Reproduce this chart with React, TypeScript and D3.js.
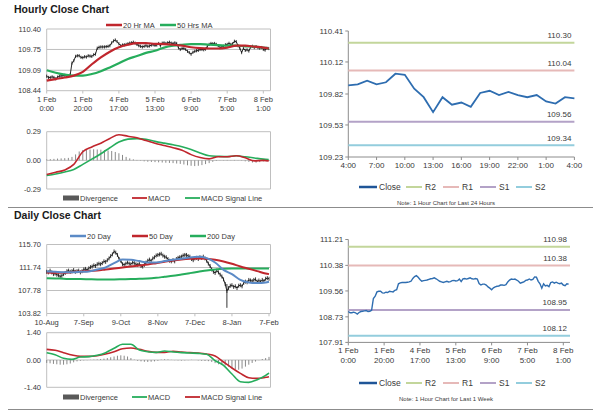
import * as d3 from "d3";

const FONT = "'Liberation Sans', Arial, sans-serif";
const GRID = "#bfbfbf";
const TXT = "#3a3a3a";

// ---- hourly data: 1 Feb 0:00 .. 8 Feb 3:00 (one value per bar)
const hourlyClose = [
  108.90, 108.86, 108.86, 108.88, 108.86, 108.82, 108.87, 108.90, 108.91, 108.92, 108.93, 108.90, 108.91, 108.94,
  109.32, 109.39, 109.53, 109.55, 109.55, 109.50, 109.49, 109.52, 109.51, 109.55, 109.54, 109.53, 109.58, 109.60,
  109.79, 109.82, 109.83, 109.83, 109.83, 109.84, 109.85, 109.87, 109.96, 110.02, 110.05, 110.00, 109.93, 109.87,
  109.89, 109.90, 109.91, 109.93, 109.95, 109.96, 109.98, 109.95, 109.91, 109.87, 109.85, 109.83, 109.85, 109.87,
  109.85, 109.86, 109.89, 109.90, 109.88, 109.89, 109.94, 109.86, 109.95, 109.96, 109.94, 109.96, 109.98, 109.95,
  109.94, 109.96, 109.94, 109.80, 109.75, 109.78, 109.78, 109.75, 109.69, 109.65, 109.60, 109.66, 109.69, 109.71,
  109.72, 109.75, 109.75, 109.74, 109.76, 109.85, 109.91, 109.94, 109.93, 109.94, 109.91, 109.87, 109.81, 109.83, 109.85,
  109.90, 109.91, 109.945, 109.91, 109.93, 110.01, 110.00, 109.87, 109.79, 109.65, 109.79, 109.72, 109.74, 109.70,
  109.83, 109.85, 109.81, 109.84, 109.81, 109.79, 109.81, 109.75, 109.73, 109.79, 109.78,
];
const hourlyTicks = [0, 20, 40, 60, 80, 100, 120];
const hourlyTickDay = ["1 Feb", "1 Feb", "4 Feb", "5 Feb", "6 Feb", "7 Feb", "8 Feb"];
const hourlyTickTime = ["0:00", "20:00", "17:00", "13:00", "9:00", "5:00", "1:00"];

const hourlyMaIdx = [0, 5, 10, 15, 20, 25, 30, 35, 40, 45, 50, 55, 60, 65, 70, 75, 80, 85, 90, 95, 100, 105, 110, 115, 120, 123];
const hourlyMa20 = [108.76, 108.81, 108.86, 108.92, 109.04, 109.28, 109.50, 109.68, 109.82, 109.90, 109.95, 109.95, 109.93,
  109.92, 109.90, 109.87, 109.82, 109.79, 109.78, 109.78, 109.81, 109.87, 109.87, 109.84, 109.81, 109.78];
const hourlyMa50 = [109.09, 109.01, 108.95, 108.92, 108.92, 108.97, 109.06, 109.18, 109.31, 109.45, 109.54, 109.64, 109.71,
  109.81, 109.87, 109.90, 109.92, 109.92, 109.90, 109.89, 109.87, 109.87, 109.85, 109.84, 109.81, 109.78];
const hourlyMacd = [-0.144, -0.121, -0.097, -0.041, 0.087, 0.135, 0.174, 0.222, 0.259, 0.244, 0.228, 0.200, 0.174,
  0.151, 0.128, 0.103, 0.058, 0.028, 0.015, 0.036, 0.036, 0.046, 0.026, -0.005, 0.000, -0.005];
const hourlySignal = [-0.154, -0.138, -0.118, -0.092, -0.041, 0.012, 0.067, 0.128, 0.185, 0.215, 0.220, 0.213, 0.192,
  0.174, 0.157, 0.138, 0.110, 0.074, 0.046, 0.041, 0.038, 0.046, 0.036, 0.024, 0.012, 0.007];
// every 2nd bar
const hourlyDiv = [
  0.010, 0.012, 0.015, 0.018, 0.020, 0.022, 0.025, 0.035, 0.060, 0.090,
  0.105, 0.108, 0.110, 0.112, 0.110, 0.108, 0.105, 0.100, 0.095, 0.085,
  0.072, 0.055, 0.035, 0.020, 0.010, 0.004, -0.004, -0.010, -0.014, -0.016,
  -0.018, -0.020, -0.022, -0.024, -0.026, -0.028, -0.032, -0.036, -0.042, -0.050,
  -0.055, -0.058, -0.055, -0.048, -0.038, -0.028, -0.015, -0.006, -0.002, 0.003,
  0.004, 0.002, 0.004, 0.002, -0.004, -0.010, -0.016, -0.022, -0.024, -0.018,
  -0.012, -0.010,
];

// ---- daily data: 10 Aug .. 7 Feb
const dailyClose = [
  111.0, 110.9, 111.2, 110.9, 110.6, 110.7, 110.5, 110.4, 110.2, 110.3, 110.6, 110.8, 111.1,
  111.2, 111.0, 111.1, 111.3, 111.0, 111.1, 111.2, 110.9, 111.1, 111.4, 111.5, 111.3, 111.6, 111.8,
  111.9, 112.1, 112.0, 112.3, 112.4, 112.3, 112.5, 112.8, 112.7, 113.0, 113.3, 113.7,
  114.0, 114.5, 114.3, 113.9, 113.2, 112.9, 112.3, 112.2,
  112.4, 112.6, 112.4, 112.3, 112.6, 112.5, 112.3, 112.2, 112.4, 112.0, 111.9, 112.2, 112.6, 112.9,
  113.1, 112.9, 113.3, 113.5, 113.8, 113.9, 114.0, 114.1, 113.8, 113.6, 113.5, 113.2, 112.9, 112.8,
  113.0, 112.8, 113.2, 113.4, 113.5, 113.6, 113.8, 113.9, 113.9, 113.7, 113.6, 113.2,
  113.0, 113.3, 113.4, 113.2, 113.5, 113.4, 113.6, 113.3, 112.9, 112.4, 112.0,
  111.4, 111.0, 110.8, 111.2, 110.9, 110.5, 110.2, 109.7, 108.9, 107.7,
  108.2, 108.6, 108.7, 108.4, 108.5, 108.2, 108.6, 108.7, 108.5, 109.1,
  109.3, 109.2, 109.6, 109.5, 109.4, 109.6, 109.7, 109.3, 109.5, 109.3, 109.6, 109.4, 109.8, 109.9, 109.8,
];
const dailySpike = { index: 107, high: 108.9, low: 104.8 };
const dailyTicks = [0, 22, 44, 66, 88, 110, 132];
const dailyTickLabels = ["10-Aug", "7-Sep", "9-Oct", "8-Nov", "7-Dec", "8-Jan", "7-Feb"];
const dailyMaIdx = [0, 5, 10, 15, 20, 25, 30, 35, 40, 45, 50, 55, 60, 65, 70, 75, 80, 85, 90, 95, 100, 105, 110, 115, 120, 125, 130, 132];
const dailyMa20 = [111.06, 111.00, 110.94, 110.94, 111.00, 111.06, 111.40, 111.75, 112.49, 113.12, 113.07, 112.84, 112.61,
  112.61, 112.84, 113.07, 113.24, 113.47, 113.58, 113.35, 112.61, 111.34, 110.60, 109.62, 109.16, 109.05, 109.16, 109.28];
const dailyMa50 = [110.89, 110.83, 110.83, 110.94, 111.06, 111.12, 111.23, 111.40, 111.57, 111.75, 111.92, 112.09, 112.26,
  112.49, 112.72, 112.95, 113.12, 113.24, 113.30, 113.24, 113.07, 112.78, 112.38, 111.92, 111.52, 111.12, 110.71, 110.60];
const dailyMa200 = [109.91, 109.85, 109.80, 109.74, 109.74, 109.71, 109.68, 109.68, 109.68, 109.71, 109.74, 109.80, 109.85,
  109.97, 110.14, 110.31, 110.54, 110.77, 111.00, 111.23, 111.40, 111.52, 111.57, 111.57, 111.57, 111.57, 111.57, 111.57];
const dailyMacd = [0.376, 0.274, 0.085, 0.034, 0.154, 0.171, 0.239, 0.376, 0.598, 0.804, 0.804, 0.513, 0.427, 0.393,
  0.462, 0.410, 0.376, 0.359, 0.342, 0.291, -0.034, -0.274, -0.718, -1.111, -1.146, -1.009, -0.787, -0.667];
const dailySignal = [0.547, 0.496, 0.376, 0.257, 0.188, 0.188, 0.222, 0.308, 0.427, 0.581, 0.616, 0.547, 0.445, 0.393,
  0.393, 0.445, 0.410, 0.376, 0.359, 0.308, 0.205, -0.103, -0.410, -0.684, -0.906, -0.941, -0.889, -0.855];
// every 2nd day
const dailyDiv = [
  -0.15, -0.17, -0.20, -0.22, -0.24, -0.24, -0.22, -0.18, -0.12, -0.07,
  -0.04, -0.02, -0.01, 0.01, 0.02, 0.03, 0.05, 0.07, 0.10, 0.14,
  0.18, 0.22, 0.24, 0.22, 0.18, 0.10, 0.02, -0.04, -0.07, -0.09,
  -0.10, -0.09, -0.07, -0.04, 0.02, 0.04, 0.03, 0.01, -0.01, -0.02,
  -0.03, -0.02, -0.01, 0.01, 0.00, -0.02, -0.04, -0.05, -0.06, -0.10,
  -0.16, -0.22, -0.24, -0.28, -0.34, -0.42, -0.48, -0.50, -0.44, -0.34,
  -0.24, -0.15, -0.08, -0.01, 0.05, 0.10, 0.16,
];

// ---- pivot levels
const dayTicksY = [110.41, 110.12, 109.82, 109.53, 109.23];
const dayLevels = [110.30, 110.04, 109.56, 109.34];
const dayTimeLabels = ["4:00", "7:00", "10:00", "13:00", "16:00", "19:00", "22:00", "1:00", "4:00"];
const weekTicksY = [111.21, 110.38, 109.56, 108.73, 107.91];
const weekLevels = [110.98, 110.38, 108.95, 108.12];
const levelNames = ["R2", "R1", "S1", "S2"];
const levelColors = ["#c3d69b", "#e6b9b8", "#b3a2c7", "#93cddd"];
const CLOSE_BLUE = "#2e6db0";

type Sc = d3.ScaleLinear<number, number>;

function linePath(xs: number[], vs: number[], x: Sc, y: Sc, curve = false) {
  const l = d3.line<number>().x((_, i) => x(xs[i])).y((v) => y(v));
  if (curve) l.curve(d3.curveMonotoneX);
  return l(vs) || "";
}

function Frame({ x0, x1, y, ticks, fmt }: { x0: number; x1: number; y: Sc; ticks: number[]; fmt: (v: number) => string }) {
  const [ya, yb] = y.range();
  return (
    <g>
      {ticks.map((t, i) => (
        <g key={i}>
          <line x1={x0} x2={x1} y1={y(t)} y2={y(t)} stroke={GRID} strokeWidth={1} />
          <text x={41} y={y(t) + 2.6} textAnchor="end" fontSize={7.5} fill={TXT}>{fmt(t)}</text>
        </g>
      ))}
      <line x1={x0} x2={x0} y1={ya} y2={yb} stroke={GRID} />
      <line x1={x1} x2={x1} y1={ya} y2={yb} stroke={GRID} />
    </g>
  );
}

function LegendLine({ x, y, color, label, w = 16, sw = 2.5 }: { x: number; y: number; color: string; label: string; w?: number; sw?: number }) {
  return (
    <g>
      <line x1={x} x2={x + w} y1={y} y2={y} stroke={color} strokeWidth={sw} />
      <text x={x + w + 1} y={y + 2.6} fontSize={7.5} fill={TXT}>{label}</text>
    </g>
  );
}

function Bars({ vals, x, y, h }: { vals: number[]; x: Sc; y: Sc; h: number }) {
  const idx = vals.map((_, i) => i);
  return (
    <g>
      <path d={linePath(idx, vals, x, y)} fill="none" stroke="#111" strokeWidth={0.9} />
      {vals.map((v, i) => (
        <line key={i} x1={x(i)} x2={x(i)} y1={y(v) - h} y2={y(v) + h} stroke="#111" strokeWidth={0.8} />
      ))}
    </g>
  );
}

function HourlyPanel() {
  const x = d3.scaleLinear().domain([0, 120]).range([46.7, 263.3]);
  const y = d3.scaleLinear().domain([108.44, 110.40]).range([90.7, 29]);
  const ym = d3.scaleLinear().domain([-0.29, 0.29]).range([189, 131.7]);
  const x1 = 270.5;
  return (
    <g>
      <text x={14} y={13} fontSize={10.5} fontWeight="bold" fill="#1a1a1a">Hourly Close Chart</text>
      <LegendLine x={106} y={25} color="#c0262d" label="20 Hr MA" />
      <LegendLine x={160} y={25} color="#26ad5c" label="50 Hrs MA" />
      <Frame x0={46.7} x1={x1} y={y} ticks={[110.40, 109.75, 109.09, 108.44]} fmt={(v) => v.toFixed(2)} />
      {hourlyTicks.map((t, i) => (
        <g key={i}>
          <line x1={x(t)} x2={x(t)} y1={90.7} y2={93.5} stroke={GRID} />
          <text x={x(t)} y={102} textAnchor="middle" fontSize={7.5} fill={TXT}>{hourlyTickDay[i]}</text>
          <text x={x(t)} y={111} textAnchor="middle" fontSize={7.5} fill={TXT}>{hourlyTickTime[i]}</text>
        </g>
      ))}
      <Bars vals={hourlyClose} x={x} y={y} h={1.6} />
      <path d={linePath(hourlyMaIdx, hourlyMa50, x, y, true)} fill="none" stroke="#26ad5c" strokeWidth={2.2} />
      <path d={linePath(hourlyMaIdx, hourlyMa20, x, y, true)} fill="none" stroke="#c0262d" strokeWidth={2.2} />

      <Frame x0={46.7} x1={x1} y={ym} ticks={[0.29, 0, -0.29]} fmt={(v) => v.toFixed(2)} />
      {hourlyDiv.map((v, i) => (
        <rect key={i} x={x(i * 2) - 0.5} width={1} y={Math.min(ym(v), ym(0))} height={Math.abs(ym(v) - ym(0))} fill="#8a8a8a" />
      ))}
      <path d={linePath(hourlyMaIdx, hourlySignal, x, ym, true)} fill="none" stroke="#26ad5c" strokeWidth={1.6} />
      <path d={linePath(hourlyMaIdx, hourlyMacd, x, ym, true)} fill="none" stroke="#c0262d" strokeWidth={1.6} />
      <rect x={63} y={195.5} width={16} height={5} fill="#595959" />
      <text x={80} y={200.6} fontSize={7.5} fill={TXT}>Divergence</text>
      <LegendLine x={132} y={198} color="#c0262d" label="MACD" w={15} sw={1.8} />
      <LegendLine x={185} y={198} color="#26ad5c" label="MACD Signal Line" w={15} sw={1.8} />
    </g>
  );
}

function DailyPanel() {
  const x = d3.scaleLinear().domain([0, 132]).range([46.7, 269]);
  const y = d3.scaleLinear().domain([103.82, 115.70]).range([313.5, 244.5]);
  const ym = d3.scaleLinear().domain([-1.4, 1.4]).range([387.3, 332.7]);
  const x1 = 270.5;
  return (
    <g>
      <text x={14} y={219} fontSize={10.5} fontWeight="bold" fill="#1a1a1a">Daily Close Chart</text>
      <LegendLine x={70} y={236} color="#5b8ac6" label="20 Day" />
      <LegendLine x={132} y={236} color="#c0262d" label="50 Day" />
      <LegendLine x={190} y={236} color="#26ad5c" label="200 Day" />
      <Frame x0={46.7} x1={x1} y={y} ticks={[115.70, 111.74, 107.78, 103.82]} fmt={(v) => v.toFixed(2)} />
      {dailyTicks.map((t, i) => (
        <g key={i}>
          <line x1={x(t)} x2={x(t)} y1={313.5} y2={316.3} stroke={GRID} />
          <text x={x(t)} y={324.5} textAnchor="middle" fontSize={7.5} fill={TXT}>{dailyTickLabels[i]}</text>
        </g>
      ))}
      <Bars vals={dailyClose} x={x} y={y} h={2} />
      <line x1={x(dailySpike.index)} x2={x(dailySpike.index)} y1={y(dailySpike.high)} y2={y(dailySpike.low)} stroke="#333" strokeWidth={1} />
      <path d={linePath(dailyMaIdx, dailyMa200, x, y, true)} fill="none" stroke="#26ad5c" strokeWidth={2} />
      <path d={linePath(dailyMaIdx, dailyMa50, x, y, true)} fill="none" stroke="#c0262d" strokeWidth={2} />
      <path d={linePath(dailyMaIdx, dailyMa20, x, y, true)} fill="none" stroke="#5b8ac6" strokeWidth={2} />

      <Frame x0={46.7} x1={x1} y={ym} ticks={[1.4, 0, -1.4]} fmt={(v) => v.toFixed(2)} />
      {dailyDiv.map((v, i) => (
        <rect key={i} x={x(i * 2) - 0.5} width={1} y={Math.min(ym(v), ym(0))} height={Math.abs(ym(v) - ym(0))} fill="#8a8a8a" />
      ))}
      <path d={linePath(dailyMaIdx, dailySignal, x, ym, true)} fill="none" stroke="#c0262d" strokeWidth={1.6} />
      <path d={linePath(dailyMaIdx, dailyMacd, x, ym, true)} fill="none" stroke="#26ad5c" strokeWidth={1.6} />
      <rect x={63} y={394.5} width={16} height={5} fill="#595959" />
      <text x={80} y={399.6} fontSize={7.5} fill={TXT}>Divergence</text>
      <LegendLine x={132} y={397} color="#26ad5c" label="MACD" w={15} sw={1.8} />
      <LegendLine x={185} y={397} color="#c0262d" label="MACD Signal Line" w={15} sw={1.8} />
    </g>
  );
}

function PivotPanel({ vals, xs, x, y, ticks, levels, xLabels, legendY, note, twoLine }: {
  vals: number[]; xs: number[]; x: Sc; y: Sc; ticks: number[]; levels: number[];
  xLabels: { at: number; a: string; b?: string }[]; legendY: number; note: string; twoLine: boolean;
}) {
  const [x0, x1] = [x.range()[0], 570];
  const [yb, yt] = y.range();
  const xEnd = Math.max(x1, x(xs[xs.length - 1]));
  return (
    <g fontSize={8} fill={TXT}>
      <line x1={x0} x2={x0} y1={yt} y2={yb} stroke="#8c8c8c" />
      <line x1={x0} x2={xEnd} y1={yb} y2={yb} stroke="#8c8c8c" />
      {ticks.map((t, i) => (
        <g key={i}>
          <line x1={x0 - 3} x2={x0} y1={y(t)} y2={y(t)} stroke="#8c8c8c" />
          <text x={x0 - 5} y={y(t) + 2.8} textAnchor="end">{t.toFixed(2)}</text>
        </g>
      ))}
      {xLabels.map((l, i) => (
        <g key={i}>
          <line x1={x(l.at)} x2={x(l.at)} y1={yb} y2={yb + 3} stroke="#8c8c8c" />
          <text x={x(l.at)} y={yb + 11} textAnchor="middle">{l.a}</text>
          {twoLine && <text x={x(l.at)} y={yb + 21} textAnchor="middle">{l.b}</text>}
        </g>
      ))}
      {levels.map((lv, i) => (
        <g key={i}>
          <line x1={x0} x2={xEnd} y1={y(lv)} y2={y(lv)} stroke={levelColors[i]} strokeWidth={2} />
          <text x={xEnd - 3} y={y(lv) - 4.5} textAnchor="end">{lv.toFixed(2)}</text>
        </g>
      ))}
      <path d={linePath(xs, vals, x, y)} fill="none" stroke={CLOSE_BLUE} strokeWidth={twoLine ? 1.4 : 1.8} />
      <g fontSize={8.5}>
        <line x1={359} x2={377} y1={legendY} y2={legendY} stroke="#1f5597" strokeWidth={2.5} />
        <text x={379} y={legendY + 3}>Close</text>
        {levelNames.map((n, i) => {
          const lx = [406, 443, 480, 516][i];
          return (
            <g key={n}>
              <line x1={lx} x2={lx + 16} y1={legendY} y2={legendY} stroke={levelColors[i]} strokeWidth={2} />
              <text x={lx + 19} y={legendY + 3}>{n}</text>
            </g>
          );
        })}
      </g>
      <text x={446} y={legendY + 18} textAnchor="middle" fontSize={6}>{note}</text>
    </g>
  );
}

export default function App() {
  const dayVals = hourlyClose.slice(99);
  const dayIdx = dayVals.map((_, i) => i);
  const xd = d3.scaleLinear().domain([0, 24]).range([348.3, 574.4]);
  const yd = d3.scaleLinear().domain([109.23, 110.41]).range([157, 31]);
  const weekIdx = hourlyClose.map((_, i) => i);
  const xw = d3.scaleLinear().domain([0, 120]).range([348.3, 563.3]);
  const yw = d3.scaleLinear().domain([107.91, 111.21]).range([342.4, 239.5]);
  return (
    <svg width={600} height={413} style={{ position: "absolute", left: 0, top: 0, background: "#fff" }} fontFamily={FONT}>
      <rect width={600} height={413} fill="#fff" />
      <HourlyPanel />
      <DailyPanel />
      <PivotPanel
        vals={dayVals} xs={dayIdx} x={xd} y={yd} ticks={dayTicksY} levels={dayLevels}
        xLabels={dayTimeLabels.map((a, i) => ({ at: i * 3, a }))}
        legendY={187} note="Note: 1 Hour Chart for Last 24 Hours" twoLine={false}
      />
      <PivotPanel
        vals={hourlyClose} xs={weekIdx} x={xw} y={yw} ticks={weekTicksY} levels={weekLevels}
        xLabels={hourlyTicks.map((t, i) => ({ at: t, a: hourlyTickDay[i], b: hourlyTickTime[i] }))}
        legendY={383} note="Note: 1 Hour Chart for Last 1 Week" twoLine={true}
      />
      <line x1={8} x2={593} y1={207.5} y2={207.5} stroke="#8c8c8c" />
      <line x1={8} x2={593} y1={409.5} y2={409.5} stroke="#8c8c8c" />
    </svg>
  );
}
